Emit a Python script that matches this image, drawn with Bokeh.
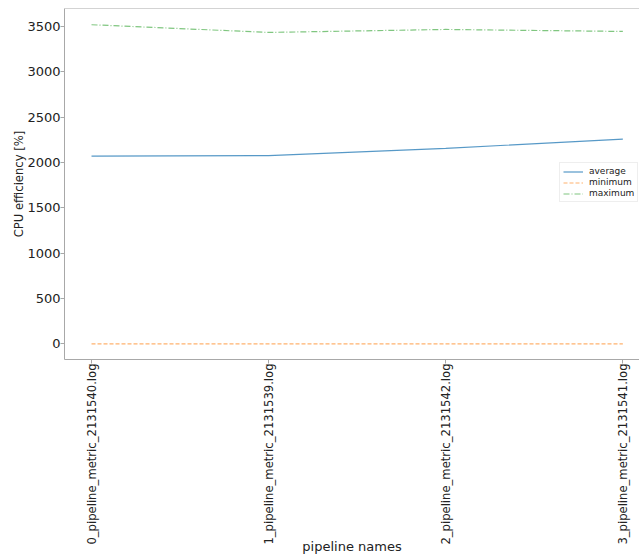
import math
from bokeh.plotting import figure
from bokeh.models import FixedTicker, Span, Legend, LegendItem
from bokeh.embed import file_html
from bokeh.resources import INLINE

# ---- data ----
pipelines = [
    "0_pipeline_metric_2131540.log",
    "1_pipeline_metric_2131539.log",
    "2_pipeline_metric_2131542.log",
    "3_pipeline_metric_2131541.log",
]
positions = [0, 1, 2, 3]
average = [2070, 2075, 2155, 2258]
minimum = [0, 0, 0, 0]
maximum = [3519, 3434, 3467, 3445]
y_ticks = [0, 500, 1000, 1500, 2000, 2500, 3000, 3500]
x_title = "pipeline names"
y_title = "CPU efficiency [%]"

FONT = "DejaVu Sans"
TXT = "#222222"
SPINE = "#a8a8a8"

Y_END = 3698
Y_START = -173

p = figure(
    width=639, height=557,
    x_range=(-0.1525, 3.094), y_range=(Y_START, Y_END),
    output_backend="svg", toolbar_location=None,
    min_border_left=64, min_border_right=0, min_border_top=8, min_border_bottom=198,
)
p.outline_line_color = None
p.xgrid.visible = False
p.ygrid.visible = False
p.background_fill_color = "white"
p.border_fill_color = "white"

# top spine
p.add_layout(Span(location=Y_END, dimension="width", line_color=SPINE, line_width=1.2))

l_avg = p.line(positions, average, line_color="#1f77b4", line_width=1.2, line_alpha=0.75)
l_min = p.line(positions, minimum, line_color="#ff7f0e", line_width=1.2, line_alpha=0.6,
               line_dash="4 2")
l_max = p.line(positions, maximum, line_color="#2ca02c", line_width=1.2, line_alpha=0.6,
               line_dash="6 2 1 2")

# x axis
xa = p.xaxis[0]
xa.ticker = FixedTicker(ticks=positions)
xa.major_label_overrides = {i: n for i, n in zip(positions, pipelines)}
xa.major_label_orientation = math.pi / 2
xa.major_label_text_font = FONT
xa.major_label_text_font_size = "11.6px"
xa.major_label_text_color = TXT
xa.major_label_standoff = 0
xa.major_tick_in = 0
xa.major_tick_out = 4
xa.minor_tick_out = 0
xa.minor_tick_in = 0
xa.axis_line_color = SPINE
xa.major_tick_line_color = SPINE
xa.axis_label = x_title
xa.axis_label_text_font = FONT
xa.axis_label_text_font_size = "13px"
xa.axis_label_text_font_style = "normal"
xa.axis_label_text_color = TXT
xa.axis_label_standoff = -9

# y axis
ya = p.yaxis[0]
ya.ticker = FixedTicker(ticks=y_ticks)
ya.major_label_text_font = FONT
ya.major_label_text_font_size = "13px"
ya.major_label_text_color = TXT
ya.major_label_standoff = 0
ya.major_tick_in = 0
ya.major_tick_out = 4
ya.minor_tick_out = 0
ya.minor_tick_in = 0
ya.axis_line_color = SPINE
ya.major_tick_line_color = SPINE
ya.axis_label = y_title
ya.axis_label_text_font = FONT
ya.axis_label_text_font_size = "11.6px"
ya.axis_label_text_font_style = "normal"
ya.axis_label_text_color = TXT
ya.axis_label_standoff = -2

legend = Legend(
    items=[
        LegendItem(label="average", renderers=[l_avg]),
        LegendItem(label="minimum", renderers=[l_min]),
        LegendItem(label="maximum", renderers=[l_max]),
    ],
    location=(495, 157),
    label_text_font=FONT,
    label_text_font_size="9px",
    label_text_color=TXT,
    label_height=9,
    glyph_height=9,
    glyph_width=20,
    label_standoff=6,
    spacing=1,
    padding=3,
    margin=0,
    border_line_color="#dddddd",
    border_line_width=1,
    background_fill_color="white",
    background_fill_alpha=0.8,
)
p.add_layout(legend, "center")

open("out.html", "w").write(file_html(p, INLINE))
